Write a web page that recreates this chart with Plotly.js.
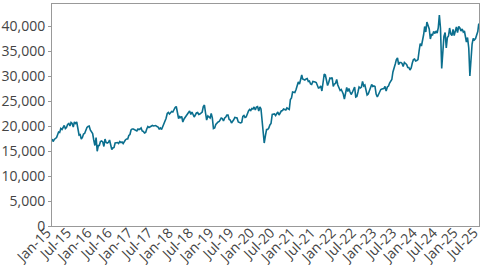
<!DOCTYPE html>
<html>
<head>
<meta charset="utf-8">
<script src="https://cdn.plot.ly/plotly-3.0.1.min.js"></script>
<style>html,body{margin:0;padding:0;background:#fff;}#chart{width:485px;height:266px;}</style>
</head>
<body>
<div id="chart"></div>
<script>
// Index level sampled on the 1st, 11th and 21st of each month, Jan 2015 - Jun 2025
const startYear = 2015;
const sampleDays = [1, 11, 21];
const levels = [
  // 2015
  17400,16900,17300, 17600,17700,18300, 18800,18700,19500, 19300,19900,20100,
  19500,19700,20300, 20500,20000,20700, 20500,19800,20800, 20500,20800,19400,
  18200,18300,17400, 17700,18400,18500, 19300,19700,19900, 20000,19200,18900,
  // 2016
  18500,17200,16100, 17700,14950,16100, 16100,16900,17000, 16800,15900,17400,
  16700,16600,16700, 17200,16000,15300, 15600,15700,16600, 16600,16700,16500,
  16900,16700,16800, 16500,17000,17200, 17400,17400,18100, 18300,19200,19400,
  // 2017
  19400,19300,19100, 19000,19400,19300, 19400,19600,19000, 18900,18600,18700,
  19400,19900,19700, 19900,20000,20100, 20000,20100,20100, 19900,19800,19400,
  19600,19300,19800, 20400,20900,21500, 22500,22700,22400, 22800,22900,22800,
  // 2018
  23500,23700,23900, 22700,21500,21900, 21700,21900,20800, 21400,21800,22100,
  22500,22700,23000, 22300,22800,22300, 21800,22200,22600, 22700,22300,22400,
  22700,22800,23900, 24200,22600,21200, 22000,21800,21600, 22500,21600,19500,
  // 2019
  19600,20300,20600, 20800,20900,21400, 21600,21500,21000, 21600,21800,22200,
  22200,21300,21200, 20600,21100,21250, 21700,21600,21600, 20800,20700,20600,
  20700,21900,22100, 21700,21800,22500, 23000,23300,23100, 23500,23400,23800,
  // 2020
  23200,23800,23900, 23000,23800,23400, 21100,19400,16600, 18100,19300,19300,
  19600,20200,20500, 22300,22300,22400, 22100,22600,22800, 22200,22800,23000,
  23100,23400,23300, 23200,23600,23500, 23300,25300,25600, 26800,26700,26700,
  // 2021
  27300,28100,28800, 28400,29600,30200, 29400,29200,29200, 29400,29500,28900,
  29000,28400,28300, 28900,28900,28800, 28700,28200,27600, 27700,28000,27000,
  28500,30400,30200, 28800,28100,28700, 29600,29500,29700, 27900,28400,28500,
  // 2022
  29300,28200,27500, 27100,27300,26900, 26400,25400,26800, 27700,26900,27500,
  26800,26300,26700, 27400,27800,25800, 25900,26800,27800, 27600,27800,28900,
  28000,28200,27300, 26200,26400,26900, 27600,28300,27900, 28000,27900,26400,
  // 2023
  25800,26400,26600, 27300,27400,27500, 27500,27900,27000, 27800,28000,28600,
  29100,29300,30800, 31500,32400,33300, 33600,32300,32700, 32700,32500,31900,
  32700,32500,32300, 31700,31700,31200, 31600,32600,33300, 33400,33000,33100,
  // 2024
  33300,35000,36500, 36000,37000,38300, 39900,38800,40800, 39800,39400,37400,
  38300,38200,38900, 38500,39000,38600, 39600,42200,39600, 31500,35000,37900,
  38700,35600,37700, 38000,39600,38400, 38100,39300,38100, 38900,39800,38700,
  // 2025
  39900,39600,39000, 39400,38800,39000, 37800,36800,37700, 35600,30000,33500,
  36400,37500,37200, 37500,38200,38900
];
const lastDate = '2025-06-30';
const lastLevel = 40500;
const xStart = '2015-01-01';
const xEnd = '2025-07-02';

const dates = levels.map(function (v, i) {
  const m = Math.floor(i / 3);
  const y = startYear + Math.floor(m / 12);
  const mo = (m % 12) + 1;
  const d = sampleDays[i % 3];
  return y + '-' + String(mo).padStart(2, '0') + '-' + String(d).padStart(2, '0');
});
dates.push(lastDate);
const values = levels.concat([lastLevel]);

const trace = {
  x: dates,
  y: values,
  type: 'scatter',
  mode: 'lines',
  line: { color: '#0b6f8e', width: 1.6 },
  hoverinfo: 'skip'
};

const tickFont = { family: 'Open Sans', size: 14, color: '#444' };

const layout = {
  width: 485,
  height: 266,
  margin: { l: 52, r: 6, t: 4, b: 40 },
  paper_bgcolor: '#fff',
  plot_bgcolor: '#fff',
  showlegend: false,
  font: tickFont,
  xaxis: {
    type: 'date',
    range: [xStart, xEnd],
    tick0: xStart,
    dtick: 'M6',
    tickformat: '%b-%y',
    tickangle: -45,
    showgrid: false,
    zeroline: false,
    showline: true,
    mirror: true,
    linecolor: '#999',
    linewidth: 1,
    ticks: '',
    ticklabelstandoff: -8,
    ticklabelshift: -5,
    ticklabeloverflow: 'allow',
    automargin: false,
    tickfont: tickFont
  },
  yaxis: {
    range: [0, 44400],
    dtick: 5000,
    tickformat: ',',
    showgrid: false,
    zeroline: false,
    showline: true,
    mirror: true,
    linecolor: '#999',
    linewidth: 1,
    ticks: 'outside',
    ticklen: 3,
    tickcolor: '#999',
    automargin: false,
    tickfont: tickFont
  }
};

Plotly.newPlot('chart', [trace], layout, { staticPlot: true, displayModeBar: false });
</script>
</body>
</html>
